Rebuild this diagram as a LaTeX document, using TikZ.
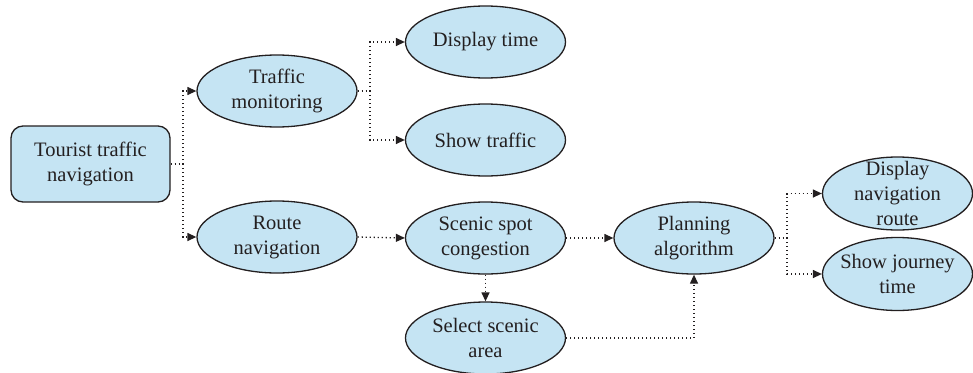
\documentclass[tikz,border=0pt]{standalone}
\usepackage{fontspec}
\setmainfont{Liberation Serif}
\usetikzlibrary{shapes.geometric,arrows.meta}
\definecolor{nodefill}{RGB}{197,228,243}
\definecolor{ink}{RGB}{35,31,32}
\tikzset{
  txt/.style={font=\fontsize{20.5}{25}\selectfont, text=ink, align=center},
  oval/.style={ellipse, draw=ink, line width=1.3pt, fill=nodefill, minimum width=160pt, minimum height=72pt, inner sep=0pt},
  smalloval/.style={oval, minimum width=150pt, minimum height=73pt},
  rbox/.style={rectangle, rounded corners=12pt, draw=ink, line width=1.3pt, fill=nodefill, minimum width=159pt, minimum height=76pt, inner sep=0pt},
  dotline/.style={draw=ink, line width=1.3pt, dash pattern=on 1.3pt off 2.7pt},
  conn/.style={dotline, -{Triangle[length=9pt,width=8pt]}}
}
\begin{document}
\begin{tikzpicture}[x=1pt,y=-1pt]
\useasboundingbox (0,0) rectangle (973,372);
\node[rbox] (tt) at (90.5,164) {};
\node[txt] at (tt.center) {Tourist traffic\\navigation};
\node[oval] (tm) at (277,91) {};
\node[txt] at (tm.center) {Traffic\\monitoring};
\node[oval] (rn) at (277,237) {};
\node[txt] at (rn.center) {Route\\navigation};
\node[oval] (dt) at (485.5,42) {};
\node[txt] at (dt.center) {Display time};
\node[oval] (st) at (485.5,140) {};
\node[txt] at (st.center) {Show traffic};
\node[oval] (sc) at (485.5,238) {};
\node[txt] at (sc.center) {Scenic spot\\congestion};
\node[oval] (sa) at (485.5,338) {};
\node[txt] at (sa.center) {Select scenic\\area};
\node[oval] (pa) at (694,238) {};
\node[txt] at (pa.center) {Planning\\algorithm};
\node[smalloval] (dn) at (897.5,193.5) {};
\node[txt] at (dn.center) {Display\\navigation\\route};
\node[smalloval] (sj) at (897.5,274) {};
\node[txt] at (sj.center) {Show journey\\time};
\coordinate (j1) at (183,164);
\coordinate (j2) at (370,91);
\coordinate (j3) at (787,238);
\draw[dotline] (tt.east) -- (j1);
\draw[conn] (j1) |- (tm.west);
\draw[conn] (j1) |- (rn.west);
\draw[dotline] (tm.east) -- (j2);
\draw[conn] (j2) |- (dt.west);
\draw[conn] (j2) |- (st.west);
\draw[conn] (rn.east) -- (sc.west);
\draw[conn] (sc.east) -- (pa.west);
\draw[conn] (sc.south) -- (sa.north);
\draw[conn] (sa.east) -| (pa.south);
\draw[dotline] (pa.east) -- (j3);
\draw[conn] (j3) |- (dn.west);
\draw[conn] (j3) |- (sj.west);
\end{tikzpicture}
\end{document}
